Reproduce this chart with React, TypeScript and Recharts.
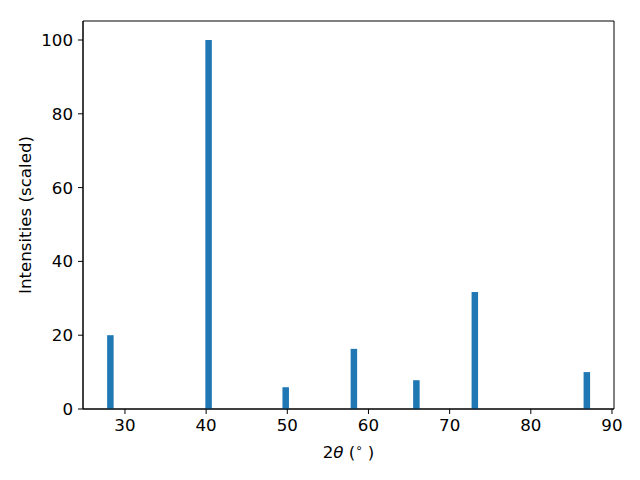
import { BarChart, Bar, XAxis, YAxis, ReferenceArea, Label } from "recharts";

// peak positions (2θ, degrees) and scaled intensities
const twoTheta = [28.2, 40.3, 49.8, 58.2, 65.9, 73.1, 86.9];
const intensity = [20, 100, 5.9, 16.3, 7.8, 31.7, 10];
const xTicks = [30, 40, 50, 60, 70, 80, 90];
const yTicks = [0, 20, 40, 60, 80, 100];

const xDomain: [number, number] = [24.83, 90.25];
const yDomain: [number, number] = [0, 105.15];

const font = "DejaVu Sans, sans-serif";
const fs = 16.67;

const data = twoTheta.map((x, i) => ({ x, y: intensity[i] }));

const XLabel = (props: any) => {
  const vb = props.viewBox;
  const cx = vb.x + vb.width / 2;
  return (
    <text x={cx} y={458} textAnchor="middle" fontFamily={font} fontSize={fs} fill="#000">
      <tspan>2</tspan>
      <tspan fontStyle="italic">θ</tspan>
      <tspan> (</tspan>
      <tspan fontSize={11.7} dy={-6}>∘</tspan>
      <tspan dy={6}> )</tspan>
    </text>
  );
};

const YLabel = (props: any) => {
  const vb = props.viewBox;
  const cy = vb.y + vb.height / 2;
  return (
    <text
      x={25}
      y={cy}
      transform={`rotate(-90, 25, ${cy})`}
      textAnchor="middle"
      dominantBaseline="central"
      fontFamily={font}
      fontSize={fs}
      fill="#000"
    >
      Intensities (scaled)
    </text>
  );
};

export default function App() {
  const tickStyle = { fill: "#000", fontSize: fs, fontFamily: font };
  return (
    <div style={{ position: "absolute", left: 0, top: 0, background: "#fff" }}>
      <BarChart
        width={640}
        height={480}
        data={data}
        margin={{ top: 21, right: 26, bottom: 21, left: 0 }}
      >
        <XAxis
          dataKey="x"
          type="number"
          domain={xDomain}
          ticks={xTicks}
          allowDataOverflow
          height={50}
          tick={tickStyle}
          tickSize={5}
          tickMargin={5}
          stroke="#000"
          tickLine={{ stroke: "#000" }}
          axisLine={{ stroke: "#000" }}
        >
          <Label content={XLabel} />
        </XAxis>
        <YAxis
          type="number"
          domain={yDomain}
          ticks={yTicks}
          allowDataOverflow
          width={83}
          tick={tickStyle}
          tickSize={5}
          tickMargin={5}
          stroke="#000"
          tickLine={{ stroke: "#000" }}
          axisLine={{ stroke: "#000" }}
        >
          <Label content={YLabel} />
        </YAxis>
        <Bar dataKey="y" fill="#1f77b4" barSize={6.5} isAnimationActive={false} />
        <ReferenceArea
          x1={xDomain[0]}
          x2={xDomain[1]}
          y1={yDomain[0]}
          y2={yDomain[1]}
          fill="none"
          stroke="#000"
          strokeWidth={1}
          fillOpacity={0}
        />
      </BarChart>
    </div>
  );
}
